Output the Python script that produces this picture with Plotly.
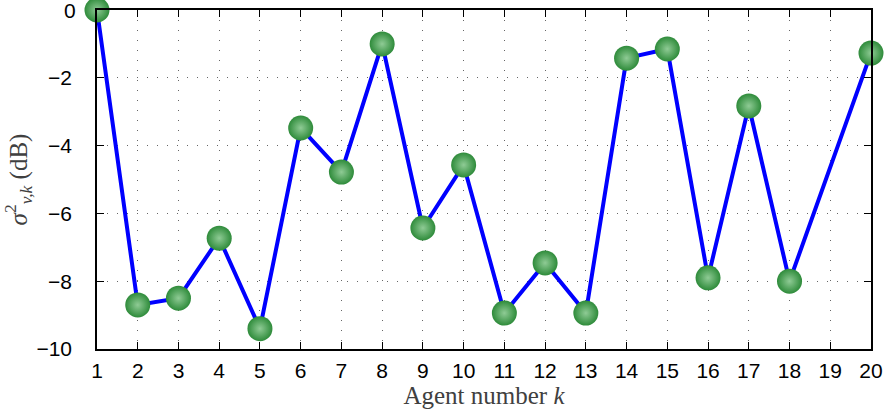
import plotly.graph_objects as go

agents = list(range(1, 21))
sigma_db = [0.0, -8.7, -8.5, -6.73, -9.4, -3.48, -4.78, -1.0, -6.43, -4.57,
            -8.94, -7.46, -8.94, -1.42, -1.15, -7.9, -2.83, -8.0, None, -1.27]
x_ticks = list(range(1, 21))
y_ticks = [0, -2, -4, -6, -8, -10]
y_ticktext = ["", "−2", "−4", "−6", "−8", "−10"]

fig = go.Figure()
fig.add_trace(go.Scatter(
    x=agents, y=sigma_db, mode="lines+markers", connectgaps=True,
    line=dict(color="#0000FF", width=4),
    marker=dict(size=25, color="#2E8B3A",
                gradient=dict(type="radial", color="#8FCB95"),
                line=dict(width=0)),
    cliponaxis=False, showlegend=False,
))

tick_font = dict(family="Liberation Sans, Arial", size=21, color="black")
axis_common = dict(
    showline=True, linecolor="black", linewidth=1.5, mirror="ticks",
    ticks="inside", ticklen=7, tickcolor="black", tickwidth=1.2,
    showgrid=True, gridcolor="#666666", gridwidth=1, griddash="1px,9px",
    zeroline=False, automargin=False,
    tickfont=tick_font,
)

fig.update_xaxes(
    range=[1, 20], tickvals=x_ticks, ticktext=[str(t) for t in x_ticks],
    ticklabelstandoff=2,
    title=dict(text="Agent number <i>k</i>", standoff=2,
               font=dict(family="Liberation Serif, Times New Roman", size=25, color="#404040")),
    **axis_common,
)
fig.update_yaxes(
    range=[-10, 0], tickvals=y_ticks, ticktext=y_ticktext,
    ticklabelstandoff=19,
    title=dict(text="<i>σ</i><sup>2</sup><sub><i>v,k</i></sub> (dB)", standoff=4,
               font=dict(family="Liberation Serif, Times New Roman", size=25, color="#404040")),
    **axis_common,
)

# top tick label "0" (drawn as annotation so it is not dropped at the figure edge)
fig.add_annotation(
    x=0, xref="paper", y=y_ticks[0], yref="y", text="0", showarrow=False,
    xanchor="right", yanchor="middle", xshift=-19, font=tick_font,
)

fig.update_layout(
    width=887, height=414,
    margin=dict(l=97, r=16, t=10, b=65),
    plot_bgcolor="white", paper_bgcolor="white",
)

fig.write_html("out.html")
